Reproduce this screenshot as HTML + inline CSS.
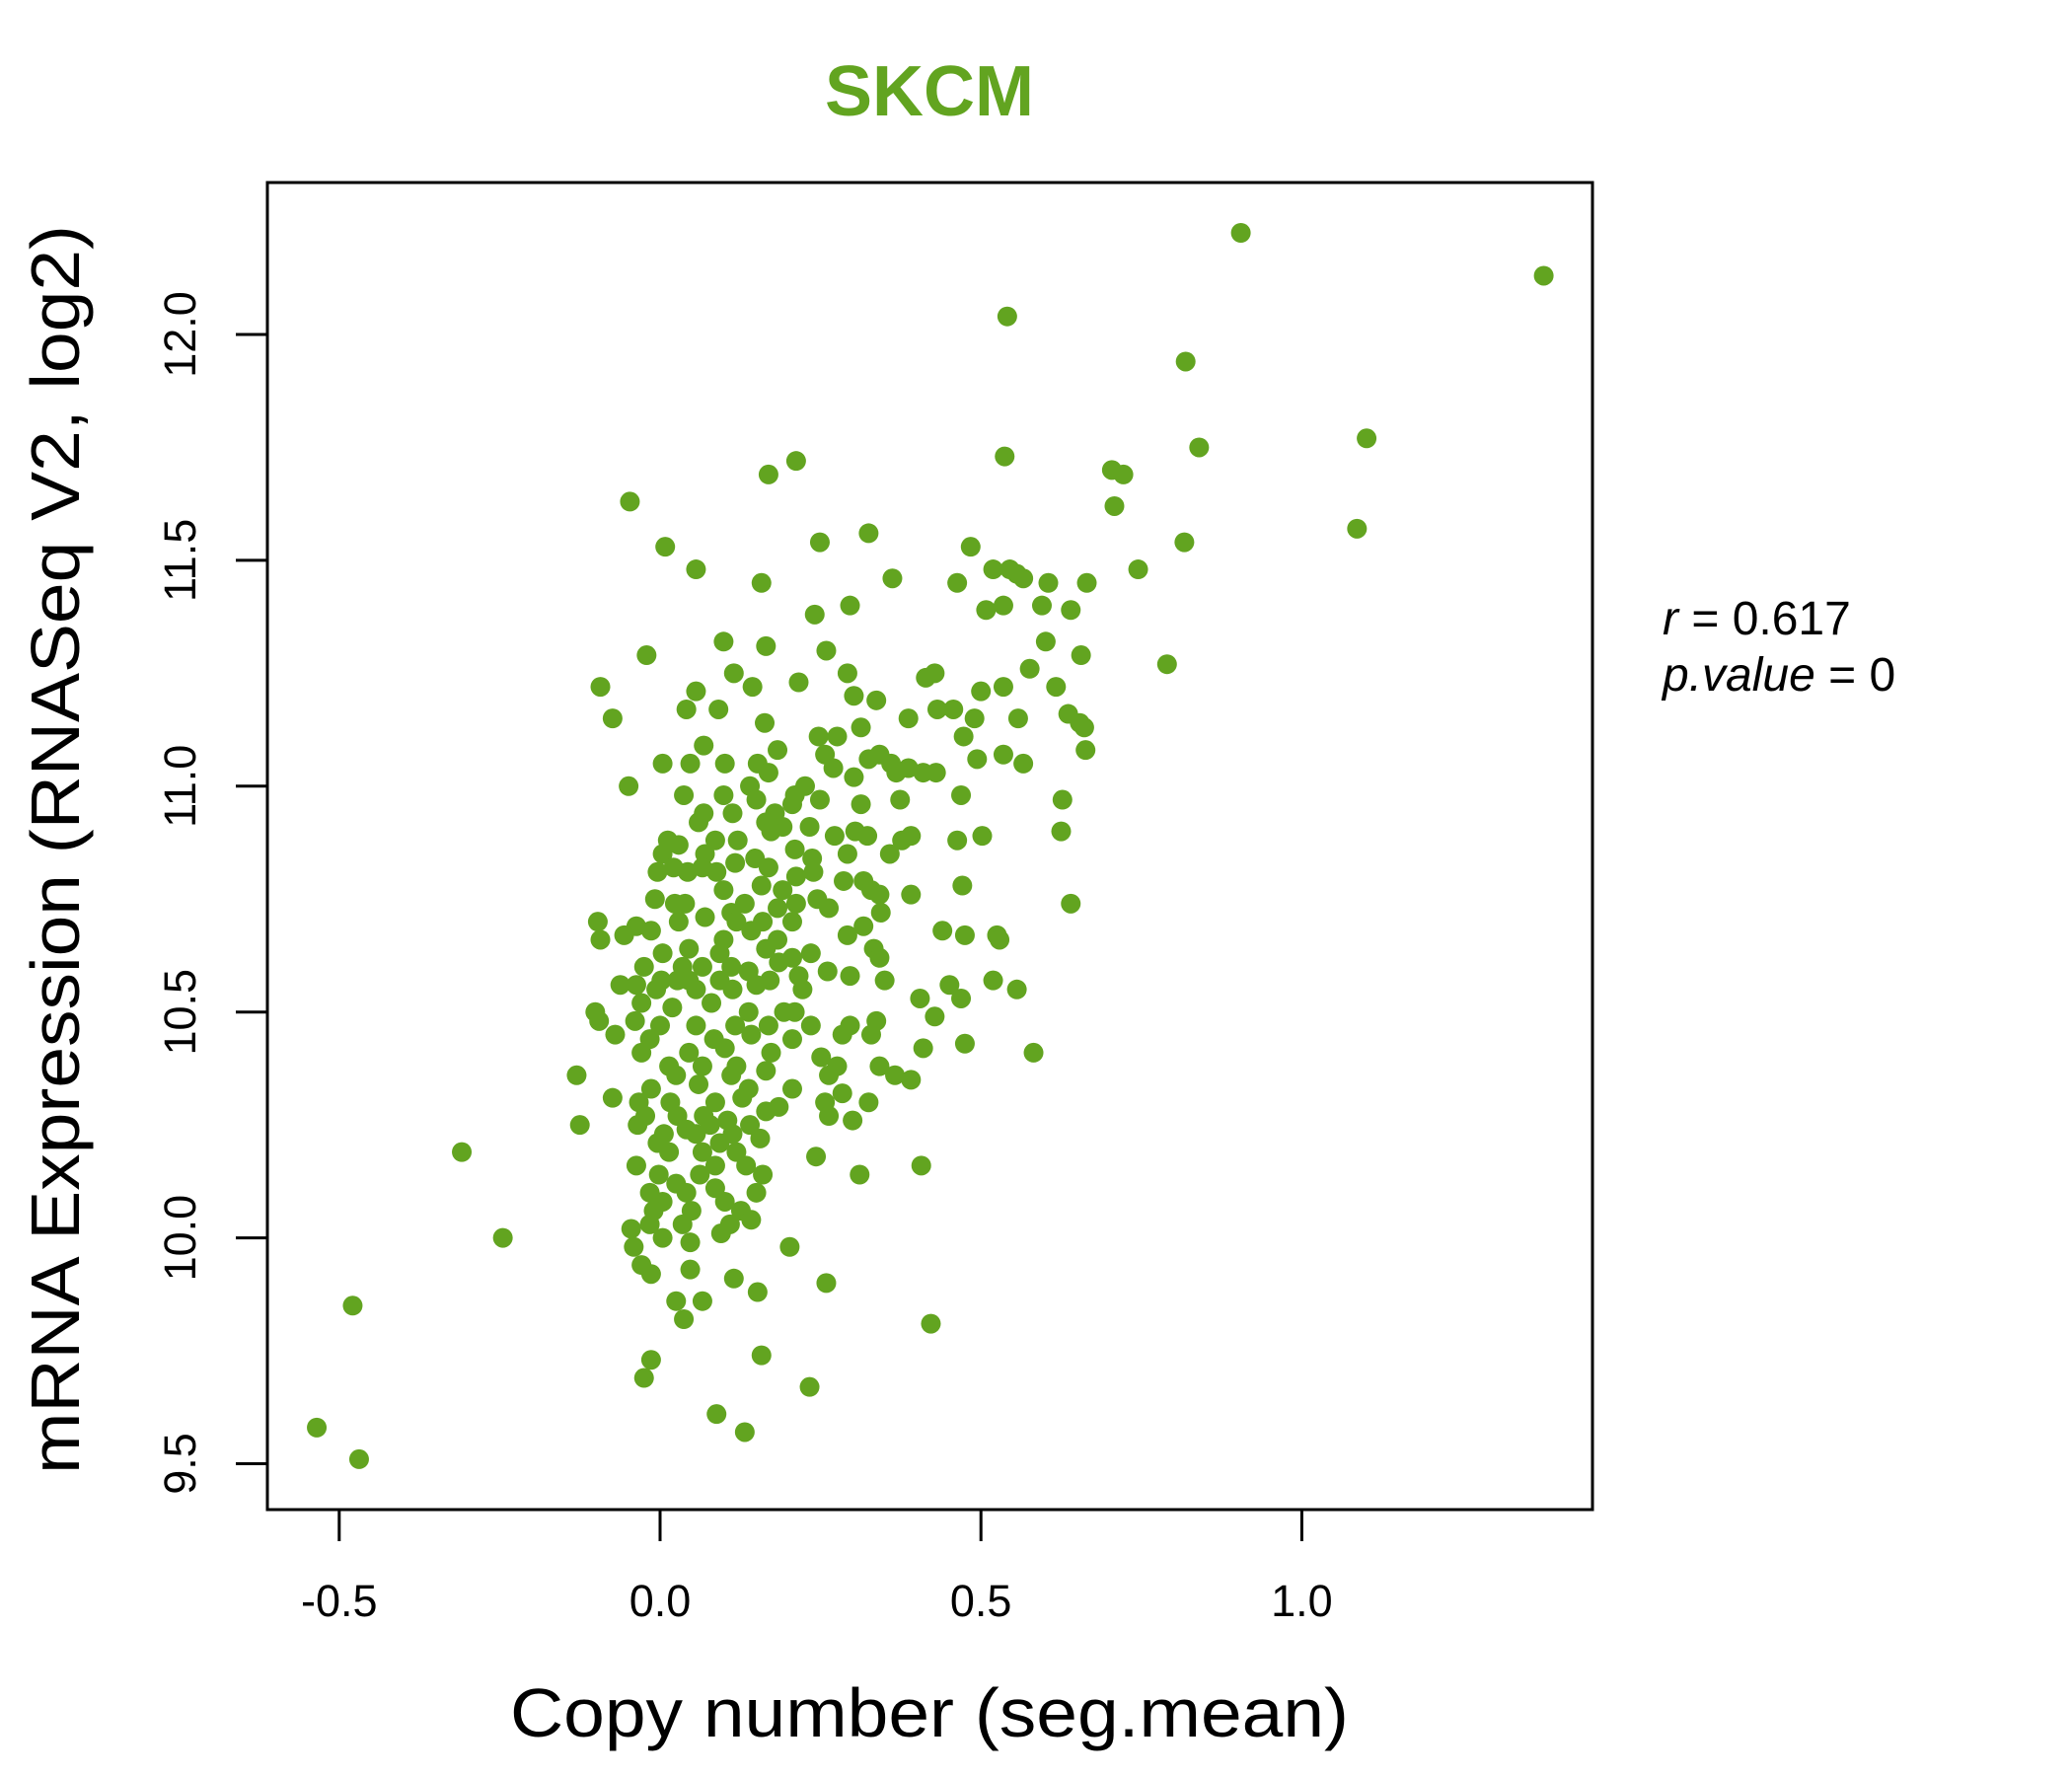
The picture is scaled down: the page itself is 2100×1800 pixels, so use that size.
<!DOCTYPE html>
<html><head><meta charset="utf-8"><style>
html,body{margin:0;padding:0;background:#fff;}
svg{display:block;font-family:"Liberation Sans",Arial,sans-serif;}
</style></head><body>
<svg id="chart" width="2100" height="1800" viewBox="0 0 2100 1800" xmlns="http://www.w3.org/2000/svg">
<rect x="0" y="0" width="2100" height="1800" fill="#fff"/>
<text x="942" y="117" text-anchor="middle" font-size="72" font-weight="bold" fill="#62a420">SKCM</text>
<g id="points"></g>
<rect x="271" y="185" width="1343" height="1345" fill="none" stroke="#000" stroke-width="3"/>
<g id="xaxis"></g>
<g id="yaxis"></g>
<text x="942" y="1760" text-anchor="middle" font-size="70" textLength="850" lengthAdjust="spacingAndGlyphs">Copy number (seg.mean)</text>
<text transform="translate(80,861) rotate(-90)" text-anchor="middle" font-size="70" textLength="1266" lengthAdjust="spacingAndGlyphs">mRNA Expression (RNASeq V2, log2)</text>
<text x="1685" y="643" font-size="48"><tspan font-style="italic">r</tspan> = 0.617</text>
<text x="1685" y="700" font-size="48"><tspan font-style="italic">p.value</tspan> = 0</text>
</svg>
<script>
const xTicks=[-0.5,0.0,0.5,1.0];
const xTickLabels=["-0.5","0.0","0.5","1.0"];
const yTicks=[9.5,10.0,10.5,11.0,11.5,12.0];
const yTickLabels=["9.5","10.0","10.5","11.0","11.5","12.0"];
const copyNumber=[0.905,1.377,0.541,0.819,1.101,0.840,0.537,0.212,0.169,0.704,0.722,-0.047,0.708,1.086,0.325,0.008,0.249,0.817,0.484,0.056,0.158,0.362,0.745,0.519,0.545,0.556,0.566,0.463,0.605,0.665,0.595,0.535,0.508,0.640,0.296,0.241,-0.021,0.099,0.165,0.259,0.601,0.656,0.790,0.292,0.115,0.576,-0.093,0.056,0.144,0.216,0.414,0.428,0.500,0.535,0.617,0.302,0.337,-0.074,0.041,0.091,0.432,0.457,0.490,0.387,0.558,0.636,0.654,0.661,0.163,0.313,0.247,0.276,0.473,0.663,0.494,0.535,0.566,0.004,0.047,0.068,0.101,0.152,0.169,0.183,0.257,0.270,0.325,0.342,0.360,0.368,0.387,0.410,0.430,0.302,-0.049,0.140,0.226,0.210,0.037,0.099,0.150,0.206,0.249,0.313,0.374,0.469,0.627,0.068,0.113,0.179,0.060,0.165,0.191,0.233,0.625,0.502,0.012,0.029,0.086,0.121,0.173,0.272,0.304,0.323,0.377,0.391,0.463,0.004,0.070,0.148,0.210,0.237,0.292,0.358,-0.004,0.021,0.043,0.066,0.088,0.117,0.169,0.212,0.239,0.317,0.286,0.471,0.099,0.158,0.191,0.329,0.342,0.391,-0.008,0.023,0.039,0.132,0.183,0.212,0.245,0.263,0.344,0.640,0.111,0.070,-0.097,-0.037,0.029,0.119,0.160,0.206,0.317,-0.093,-0.056,-0.014,0.099,0.142,0.183,0.292,0.440,0.475,0.525,0.529,0.004,0.045,0.093,0.165,0.206,0.235,0.333,-0.025,0.035,0.066,0.111,0.138,0.185,0.261,0.342,0.002,0.027,0.045,0.093,0.171,0.216,0.296,0.350,0.519,0.556,-0.062,-0.037,-0.006,0.056,0.113,0.150,0.222,0.451,0.469,0.405,-0.029,0.019,0.080,0.138,0.193,0.210,-0.101,0.428,-0.095,-0.039,0.000,0.056,0.117,0.169,0.235,0.296,0.337,0.284,0.329,-0.070,-0.016,0.084,0.142,0.206,-0.029,0.045,0.101,0.173,0.251,0.410,0.475,0.582,0.014,0.066,0.119,0.276,0.342,-0.130,0.025,0.111,0.165,0.263,0.366,0.391,-0.014,0.060,0.138,0.206,0.284,-0.074,-0.033,0.016,0.086,0.128,0.257,0.325,0.185,0.165,-0.023,0.027,0.068,0.105,0.263,0.300,-0.125,-0.035,0.041,0.078,0.140,0.006,0.056,0.113,0.156,-0.004,0.093,-0.309,0.014,0.066,0.119,0.243,0.407,-0.037,0.086,0.134,-0.002,0.062,0.311,0.160,0.025,0.086,-0.016,0.041,0.150,0.004,0.101,-0.010,0.049,0.126,0.142,0.035,-0.045,-0.016,0.109,0.095,-0.245,0.004,0.047,-0.041,0.202,-0.029,-0.014,0.047,0.115,0.259,0.152,0.025,0.066,-0.479,0.037,0.422,0.158,-0.014,-0.025,0.233,0.088,-0.535,0.132,-0.469];
const expression=[12.225,12.13,12.04,11.94,11.77,11.75,11.73,11.72,11.69,11.70,11.69,11.63,11.62,11.57,11.56,11.53,11.54,11.54,11.53,11.48,11.45,11.46,11.48,11.48,11.48,11.47,11.46,11.45,11.45,11.45,11.40,11.40,11.39,11.39,11.40,11.38,11.29,11.32,11.31,11.30,11.32,11.29,11.27,11.25,11.25,11.26,11.22,11.21,11.22,11.23,11.24,11.25,11.21,11.22,11.22,11.20,11.19,11.15,11.17,11.17,11.17,11.17,11.15,11.15,11.15,11.16,11.14,11.13,11.14,11.13,11.11,11.11,11.11,11.08,11.06,11.07,11.05,11.05,11.05,11.09,11.05,11.05,11.03,11.08,11.07,11.04,11.06,11.07,11.05,11.03,11.04,11.03,11.03,11.02,11.00,11.00,11.00,10.98,10.98,10.98,10.97,10.96,10.97,10.96,10.97,10.98,10.97,10.94,10.94,10.94,10.92,10.92,10.91,10.91,10.90,10.89,10.88,10.87,10.88,10.88,10.90,10.89,10.90,10.89,10.88,10.89,10.88,10.85,10.85,10.84,10.86,10.84,10.85,10.85,10.81,10.82,10.81,10.82,10.81,10.83,10.82,10.80,10.81,10.79,10.79,10.78,10.77,10.78,10.77,10.77,10.76,10.76,10.75,10.74,10.74,10.74,10.73,10.74,10.75,10.73,10.72,10.74,10.72,10.71,10.70,10.69,10.70,10.70,10.70,10.70,10.69,10.66,10.67,10.68,10.66,10.68,10.66,10.67,10.68,10.67,10.67,10.66,10.63,10.64,10.63,10.64,10.62,10.63,10.64,10.60,10.60,10.60,10.60,10.59,10.61,10.59,10.62,10.57,10.57,10.57,10.57,10.57,10.58,10.58,10.57,10.57,10.55,10.56,10.56,10.55,10.55,10.55,10.56,10.55,10.56,10.53,10.53,10.52,10.51,10.52,10.50,10.50,10.50,10.50,10.49,10.48,10.48,10.47,10.47,10.47,10.47,10.47,10.47,10.48,10.45,10.45,10.45,10.44,10.44,10.45,10.44,10.41,10.41,10.42,10.41,10.40,10.42,10.43,10.41,10.38,10.38,10.38,10.38,10.38,10.36,10.36,10.36,10.37,10.36,10.36,10.35,10.33,10.34,10.33,10.33,10.32,10.31,10.30,10.30,10.30,10.31,10.30,10.30,10.29,10.28,10.27,10.27,10.27,10.26,10.27,10.26,10.25,10.25,10.24,10.25,10.25,10.23,10.23,10.23,10.22,10.21,10.21,10.19,10.19,10.19,10.19,10.18,10.16,10.16,10.16,10.16,10.14,10.14,10.14,10.14,10.12,10.11,10.10,10.10,10.10,10.08,10.08,10.06,10.06,10.06,10.04,10.03,10.02,10.03,10.03,10.01,10.00,10.00,9.99,9.98,9.98,9.94,9.92,9.93,9.91,9.90,9.88,9.86,9.86,9.85,9.82,9.81,9.74,9.73,9.69,9.67,9.61,9.58,9.57,9.51];
const NS="http://www.w3.org/2000/svg";
function xScale(v){return 669+650.4*v;}
function yScale(v){return 339+(12-v)*457.8;}
const pts=document.getElementById('points');
for(let i=0;i<copyNumber.length;i++){
  const c=document.createElementNS(NS,'circle');
  c.setAttribute('cx',xScale(copyNumber[i]));
  c.setAttribute('cy',yScale(expression[i]));
  c.setAttribute('r',10);
  c.setAttribute('fill','#62a420');
  
  
  pts.appendChild(c);
}
const xa=document.getElementById('xaxis');
xTicks.forEach((t,i)=>{
  const x=xScale(t);
  const l=document.createElementNS(NS,'line');
  l.setAttribute('x1',x);l.setAttribute('x2',x);l.setAttribute('y1',1530);l.setAttribute('y2',1562);
  l.setAttribute('stroke','#000');l.setAttribute('stroke-width',3);
  
  
  xa.appendChild(l);
  const tx=document.createElementNS(NS,'text');
  tx.setAttribute('x',x);tx.setAttribute('y',1638);tx.setAttribute('text-anchor','middle');tx.setAttribute('font-size','45');
  tx.textContent=xTickLabels[i];
  
  
  xa.appendChild(tx);
});
const ya=document.getElementById('yaxis');
yTicks.forEach((t,i)=>{
  const y=yScale(t);
  const l=document.createElementNS(NS,'line');
  l.setAttribute('x1',239);l.setAttribute('x2',271);l.setAttribute('y1',y);l.setAttribute('y2',y);
  l.setAttribute('stroke','#000');l.setAttribute('stroke-width',3);
  
  
  ya.appendChild(l);
  const tx=document.createElementNS(NS,'text');
  tx.setAttribute('transform','translate(198,'+y+') rotate(-90)');
  tx.setAttribute('text-anchor','middle');tx.setAttribute('font-size','45');
  tx.textContent=yTickLabels[i];
  
  
  ya.appendChild(tx);
});
</script>
</body></html>
